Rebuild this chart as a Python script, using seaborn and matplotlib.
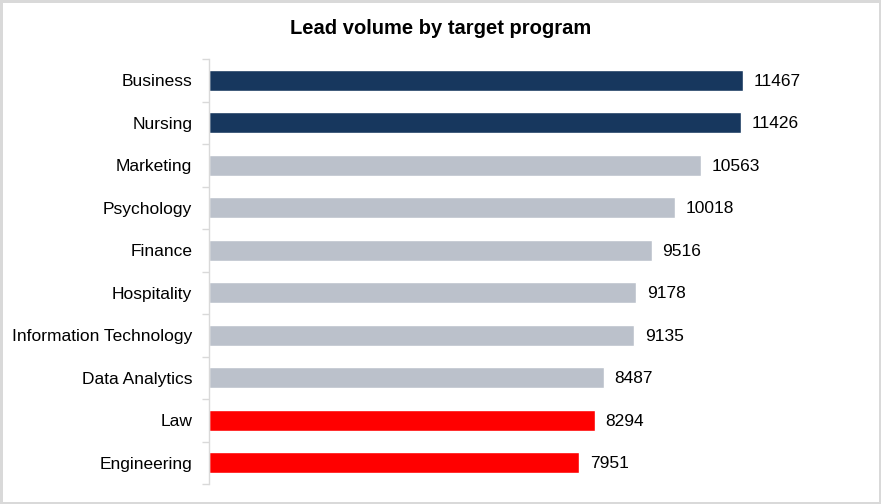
import matplotlib
matplotlib.use("Agg")
import matplotlib.pyplot as plt
import seaborn as sns
import pandas as pd

programs = ["Business", "Nursing", "Marketing", "Psychology", "Finance",
            "Hospitality", "Information Technology", "Data Analytics", "Law", "Engineering"]
leads = [11467, 11426, 10563, 10018, 9516, 9178, 9135, 8487, 8294, 7951]
groups = ["top", "top", "mid", "mid", "mid", "mid", "mid", "mid", "low", "low"]

palette = {"top": "#17375E", "mid": "#BBC1CB", "low": "#FF0000"}

df = pd.DataFrame({"program": programs, "leads": leads, "group": groups})

sns.set_style("white")
plt.rcParams["font.family"] = ["Liberation Sans", "DejaVu Sans"]
plt.rcParams["text.color"] = "black"
plt.rcParams["ytick.color"] = "black"

fig = plt.figure(figsize=(8.81, 5.04), dpi=100)
fig.patch.set_edgecolor("#D9D9D9")
fig.patch.set_linewidth(2.5)
ax = fig.add_axes([209 / 881, 20 / 504, 605 / 881, 425 / 504])

sns.barplot(data=df, x="leads", y="program", hue="group", palette=palette,
            dodge=False, width=0.5, legend=False, ax=ax, saturation=1)

for i, v in enumerate(leads):
    ax.text(v + 230, i + 0.02, str(v), va="center", ha="left", fontsize=12.5, color="black")

ax.set_xlim(0, 13000)
ax.set_ylim(len(programs) - 0.5, -0.5)
ax.set_xlabel("")
ax.set_ylabel("")
ax.set_xticks([])
ax.set_yticks(range(len(programs)))
ax.set_yticklabels(programs, fontsize=12.5, color="black")
ax.tick_params(axis="y", which="major", length=0, pad=12)
# category boundary ticks, Excel style
ax.set_yticks([i - 0.5 for i in range(len(programs) + 1)], minor=True)
ax.tick_params(axis="y", which="minor", left=True, length=5, color="#D9D9D9", width=1)

for s in ["top", "right", "bottom"]:
    ax.spines[s].set_visible(False)
ax.spines["left"].set_color("#D9D9D9")
ax.spines["left"].set_linewidth(1)

fig.text(0.5, 1 - 28 / 504, "Lead volume by target program", ha="center", va="center",
         fontsize=14.5, fontweight="bold", color="black")

fig.savefig("out.png", dpi=100, edgecolor=fig.get_edgecolor())
